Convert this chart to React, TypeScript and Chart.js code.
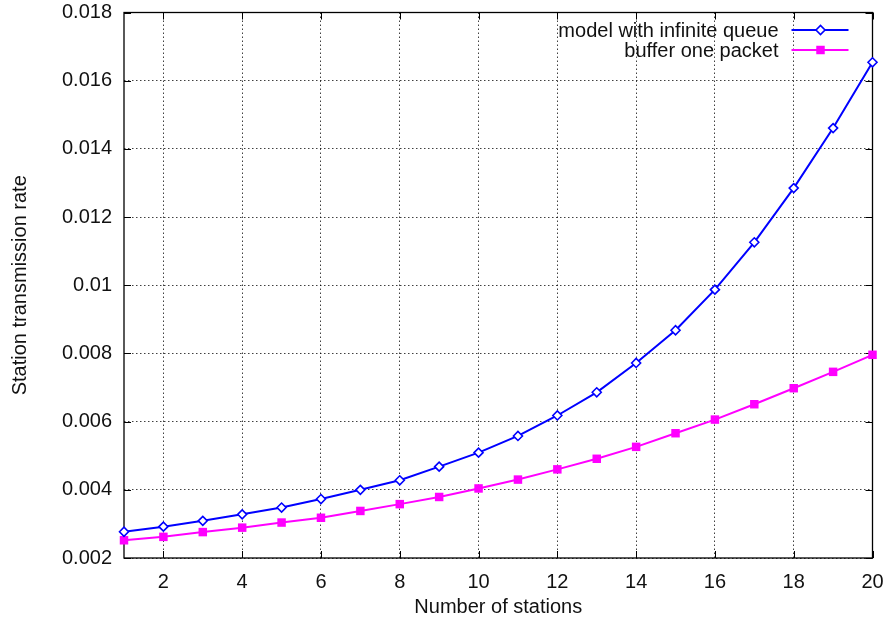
import { useEffect, useRef } from 'react';
import { Chart, registerables } from 'chart.js';

Chart.register(...registerables);

const stations = [1, 2, 3, 4, 5, 6, 7, 8, 9, 10, 11, 12, 13, 14, 15, 16, 17, 18, 19, 20];
const infiniteQueue = [
  0.00277, 0.00292, 0.00309, 0.00328, 0.00348, 0.00373, 0.004, 0.00428, 0.00468, 0.00509,
  0.00558, 0.00618, 0.00686, 0.00772, 0.00868, 0.00987, 0.01126, 0.01285, 0.01461, 0.01654,
];
const bufferOnePacket = [
  0.00252, 0.00262, 0.00276, 0.00289, 0.00304, 0.00318, 0.00338, 0.00358, 0.00379, 0.00404,
  0.0043, 0.0046, 0.00491, 0.00526, 0.00566, 0.00606, 0.00651, 0.00698, 0.00746, 0.00796,
];
const seriesLabels = ['model with infinite queue', 'buffer one packet'];
const xTickValues = [2, 4, 6, 8, 10, 12, 14, 16, 18, 20];
const xTickLabels = ['2', '4', '6', '8', '10', '12', '14', '16', '18', '20'];
const yTickValues = [0.002, 0.004, 0.006, 0.008, 0.01, 0.012, 0.014, 0.016, 0.018];
const yTickLabels = ['0.002', '0.004', '0.006', '0.008', '0.01', '0.012', '0.014', '0.016', '0.018'];
const xTitle = 'Number of stations';
const yTitle = 'Station transmission rate';

const FONT = '"Liberation Sans", Arial, Helvetica, sans-serif';
const TEXT = '#111';

function drawMarker(ctx: CanvasRenderingContext2D, style: string, x: number, y: number, r: number, color: string) {
  ctx.save();
  ctx.beginPath();
  if (style === 'rectRot') {
    ctx.moveTo(x - r, y);
    ctx.lineTo(x, y - r);
    ctx.lineTo(x + r, y);
    ctx.lineTo(x, y + r);
    ctx.closePath();
    ctx.fillStyle = '#fff';
    ctx.fill();
    ctx.lineWidth = 1.6;
    ctx.strokeStyle = color;
    ctx.stroke();
  } else {
    const s = Math.SQRT1_2 * r;
    ctx.rect(x - s, y - s, 2 * s, 2 * s);
    ctx.fillStyle = color;
    ctx.fill();
  }
  ctx.restore();
}

const framePlugin = {
  id: 'gnuplotFrame',
  beforeDatasetsDraw(chart: any) {
    const { ctx, chartArea } = chart;
    const { left, right, top, bottom } = chartArea;
    const xs = chart.scales.x;
    const ys = chart.scales.y;
    const tl = 7;
    ctx.save();
    ctx.strokeStyle = '#000';
    ctx.lineWidth = 1;
    ctx.beginPath();
    xTickValues.forEach((v) => {
      const px = Math.round(xs.getPixelForValue(v)) + 0.5;
      ctx.moveTo(px, bottom);
      ctx.lineTo(px, bottom - tl);
      ctx.moveTo(px, top);
      ctx.lineTo(px, top + tl);
    });
    yTickValues.forEach((v) => {
      const py = Math.round(ys.getPixelForValue(v)) + 0.5;
      ctx.moveTo(left, py);
      ctx.lineTo(left + tl, py);
      ctx.moveTo(right, py);
      ctx.lineTo(right - tl, py);
    });
    ctx.stroke();
    ctx.lineWidth = 1.3;
    ctx.strokeRect(left, top, right - left, bottom - top);
    ctx.restore();
  },
  afterDraw(chart: any) {
    const { ctx, chartArea } = chart;
    const right = chartArea.right;
    const top = chartArea.top;
    ctx.save();
    ctx.font = `20px ${FONT}`;
    ctx.textAlign = 'right';
    ctx.textBaseline = 'middle';
    chart.data.datasets.forEach((ds: any, i: number) => {
      const y = top + 17.5 + i * 20;
      ctx.fillStyle = TEXT;
      ctx.fillText(ds.label, right - 94, y + 1);
      ctx.strokeStyle = ds.borderColor;
      ctx.lineWidth = 2;
      ctx.beginPath();
      ctx.moveTo(right - 81, y);
      ctx.lineTo(right - 24, y);
      ctx.stroke();
      drawMarker(ctx, ds.pointStyle, right - 52, y, ds.pointRadius, ds.borderColor);
    });
    ctx.restore();
  },
};

export default function App() {
  const ref = useRef<HTMLCanvasElement | null>(null);

  useEffect(() => {
    document.body.style.margin = '0';
    const canvas = ref.current;
    if (!canvas) return;
    const chart = new Chart(canvas, {
      type: 'line',
      data: {
        datasets: [
          {
            label: seriesLabels[0],
            data: stations.map((s, i) => ({ x: s, y: infiniteQueue[i] })),
            borderColor: '#0000ff',
            backgroundColor: '#ffffff',
            borderWidth: 2,
            pointStyle: 'rectRot',
            pointRadius: 4.5,
            pointBorderWidth: 1.6,
            pointBorderColor: '#0000ff',
            pointBackgroundColor: '#ffffff',
            tension: 0,
            clip: false,
          } as any,
          {
            label: seriesLabels[1],
            data: stations.map((s, i) => ({ x: s, y: bufferOnePacket[i] })),
            borderColor: '#ff00ff',
            backgroundColor: '#ff00ff',
            borderWidth: 2,
            pointStyle: 'rect',
            pointRadius: 6,
            pointBorderWidth: 0,
            pointBackgroundColor: '#ff00ff',
            tension: 0,
            clip: false,
          } as any,
        ],
      },
      options: {
        animation: false,
        responsive: false,
        devicePixelRatio: 1,
        layout: { padding: { top: 12.5, right: 14.5, left: 0, bottom: 0 } },
        plugins: { legend: { display: false }, tooltip: { enabled: false } },
        scales: {
          x: {
            type: 'linear',
            min: 1,
            max: 20,
            afterBuildTicks: (scale: any) => {
              scale.ticks = xTickValues.map((v) => ({ value: v }));
            },
            afterFit: (scale: any) => {
              scale.height = 68;
              scale.paddingLeft = 0;
              scale.paddingRight = 0;
            },
            ticks: {
              autoSkip: false,
              maxRotation: 0,
              padding: 12,
              color: TEXT,
              font: { family: FONT, size: 20 },
              callback: (v: any) => xTickLabels[xTickValues.indexOf(Number(v))] ?? '',
            },
            grid: { color: 'rgba(0,0,0,0.75)', lineWidth: 1, drawTicks: false },
            border: { display: false, dash: [1.5, 2.5] },
            title: {
              display: true,
              text: xTitle,
              color: TEXT,
              font: { family: FONT, size: 20 },
              padding: { top: 0, bottom: 7 },
            },
          },
          y: {
            type: 'linear',
            min: 0.002,
            max: 0.018,
            afterBuildTicks: (scale: any) => {
              scale.ticks = yTickValues.map((v) => ({ value: v }));
            },
            afterFit: (scale: any) => {
              scale.width = 124;
              scale.paddingTop = 0;
              scale.paddingBottom = 0;
            },
            ticks: {
              autoSkip: false,
              padding: 12,
              color: TEXT,
              font: { family: FONT, size: 20 },
              callback: (v: any) => {
                const i = yTickValues.findIndex((t) => Math.abs(t - Number(v)) < 1e-9);
                return i >= 0 ? yTickLabels[i] : '';
              },
            },
            grid: { color: 'rgba(0,0,0,0.75)', lineWidth: 1, drawTicks: false },
            border: { display: false, dash: [1.5, 2.5] },
            title: {
              display: true,
              text: yTitle,
              color: TEXT,
              font: { family: FONT, size: 20 },
              padding: { top: 8, bottom: 0 },
            },
          },
        },
      },
      plugins: [framePlugin],
    } as any);
    return () => chart.destroy();
  }, []);

  return (
    <div style={{ width: 887, height: 626 }}>
      <canvas ref={ref} width={887} height={626} style={{ display: 'block' }} />
    </div>
  );
}
